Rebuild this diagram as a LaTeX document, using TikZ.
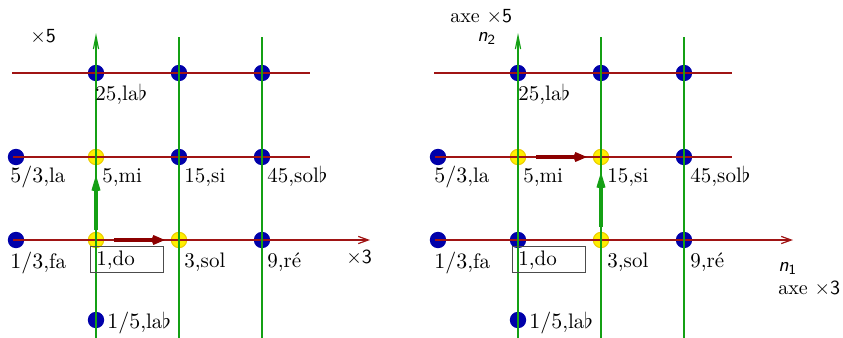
\documentclass[tikz,border=0pt]{standalone}
\usepackage{amsmath,amssymb}
\usepackage{tikz}
\usepackage{xcolor}
\usetikzlibrary{arrows.meta,positioning,calc}
\definecolor{notered}{RGB}{160,20,20}
\definecolor{arrowred}{RGB}{140,0,0}
\definecolor{notegreen}{RGB}{20,160,20}
\definecolor{dotblue}{RGB}{0,0,170}
\definecolor{dotyellow}{RGB}{255,238,0}
\definecolor{rimyellow}{RGB}{235,205,0}
\tikzset{
  bdot/.style={circle,fill=dotblue,inner sep=0pt,minimum size=8.2pt},
  ydot/.style={circle,fill=dotyellow,draw=rimyellow,line width=0.5pt,inner sep=0pt,minimum size=7.7pt},
  hline/.style={draw=notered,line width=0.6pt},
  vline/.style={draw=notegreen,line width=0.6pt},
  lab/.style={anchor=base west,inner sep=0pt,font=\fontsize{10.5}{12}\selectfont},
  axlab/.style={anchor=base west,inner sep=0pt,font=\fontsize{10}{12}\selectfont},
  hax/.style={hline,-{Straight Barb[length=5pt,width=3.6pt]}},
  vax/.style={vline,-{Straight Barb[length=6.5pt,width=2.6pt]}},
  hmove/.style={draw=arrowred,line width=1.6pt,-{Straight Barb[length=4pt,width=3.5pt]}},
  vmove/.style={draw=notegreen,line width=1.6pt,-{Straight Barb[length=5pt,width=3pt]}},
  dobox/.style={draw=black!70,anchor=north west,text height=9.5pt,text depth=3.5pt,text width=30.5pt,inner xsep=3pt,inner ysep=0pt,font=\fontsize{10.5}{12}\selectfont},
}
\newcommand{\sfn}[1]{\textsf{\itshape n}\textsubscript{\textsf{#1}}}

\begin{document}
\begin{tikzpicture}[x=0.5pt,y=-0.5pt]
  \useasboundingbox (0,0) rectangle (843,338);
  % ---- left panel: start from do
  \node[bdot] (l25) at (96,73) {};
  \node[bdot] (l75) at (179,73) {};
  \node[bdot] (l225) at (262,73) {};
  \node[bdot] (lla) at (16,157) {};
  \node[ydot] (lmi) at (96,157) {};
  \node[bdot] (lsi) at (179,157) {};
  \node[bdot] (lsolb) at (262,157) {};
  \node[bdot] (lfa) at (16,240) {};
  \node[ydot] (ldo) at (96,240) {};
  \node[ydot] (lsol) at (179,240) {};
  \node[bdot] (lre) at (262,240) {};
  \node[bdot] (llab) at (96,320) {};
  \coordinate (lr1a) at (12,73);  \coordinate (lr1b) at (310,73);
  \coordinate (lr2a) at (13,157); \coordinate (lr2b) at (310,157);
  \coordinate (lr3a) at (13,240); \coordinate (lr3b) at (370,240);
  \coordinate (lc1a) at (96,338);  \coordinate (lc1b) at (96,33);
  \coordinate (lc2a) at (179,338); \coordinate (lc2b) at (179,37);
  \coordinate (lc3a) at (262,338); \coordinate (lc3b) at (262,37);
  \draw[hline] (lr1a) -- (lr1b);
  \draw[hline] (lr2a) -- (lr2b);
  \draw[hax] (lr3a) -- (lr3b);
  \draw[vax] (lc1a) -- (lc1b);
  \draw[vline] (lc2a) -- (lc2b);
  \draw[vline] (lc3a) -- (lc3b);
  \draw[vmove] ([yshift=1pt]ldo.north) -- ([yshift=-5pt]lmi.south);
  \draw[hmove] ([xshift=5pt]ldo.east) -- ([xshift=-3pt]lsol.west);
  \node[lab] (t25) at (95,100) {25,la$\flat$};
  \node[lab] (tla) at (10,182) {$5/3$,la};
  \node[lab] (tmi) at (102,182) {5,mi};
  \node[lab] (tsi) at (184,182) {15,si};
  \node[lab] (tsolb) at (267,182) {45,sol$\flat$};
  \node[lab] (tfa) at (10,268) {$1/3$,fa};
  \node[dobox] (tdo) at (90,246) {1,do};
  \node[lab] (tsol) at (184,267) {3,sol};
  \node[lab] (tre) at (267,267) {9,ré};
  \node[lab] (tlab) at (107,328) {$1/5$,la$\flat$};
  \node[axlab] (tx5) at (30,42) {$\times$\textsf{5}};
  \node[axlab] (tx3) at (346,263) {$\times$\textsf{3}};
  % ---- right panel: from mi
  \begin{scope}[xshift=211pt]
  \node[bdot] (r25) at (96,73) {};
  \node[bdot] (r75) at (179,73) {};
  \node[bdot] (r225) at (262,73) {};
  \node[bdot] (rla) at (16,157) {};
  \node[ydot] (rmi) at (96,157) {};
  \node[ydot] (rsi) at (179,157) {};
  \node[bdot] (rsolb) at (262,157) {};
  \node[bdot] (rfa) at (16,240) {};
  \node[bdot] (rdo) at (96,240) {};
  \node[ydot] (rsol) at (179,240) {};
  \node[bdot] (rre) at (262,240) {};
  \node[bdot] (rlab) at (96,320) {};
  \coordinate (rr1a) at (12,73);  \coordinate (rr1b) at (310,73);
  \coordinate (rr2a) at (13,157); \coordinate (rr2b) at (310,157);
  \coordinate (rr3a) at (13,240); \coordinate (rr3b) at (371,240);
  \coordinate (rc1a) at (96,338);  \coordinate (rc1b) at (96,33);
  \coordinate (rc2a) at (179,338); \coordinate (rc2b) at (179,37);
  \coordinate (rc3a) at (262,338); \coordinate (rc3b) at (262,37);
  \draw[hline] (rr1a) -- (rr1b);
  \draw[hline] (rr2a) -- (rr2b);
  \draw[hax] (rr3a) -- (rr3b);
  \draw[vax] (rc1a) -- (rc1b);
  \draw[vline] (rc2a) -- (rc2b);
  \draw[vline] (rc3a) -- (rc3b);
  \draw[hmove] ([xshift=5pt]rmi.east) -- ([xshift=-3pt]rsi.west);
  \draw[vmove] ([yshift=2.5pt]rsol.north) -- ([yshift=-3.5pt]rsi.south);
  \node[lab] (s25) at (96,100) {25,la$\flat$};
  \node[lab] (sla) at (12,182) {$5/3$,la};
  \node[lab] (smi) at (101,182) {5,mi};
  \node[lab] (ssi) at (185,182) {15,si};
  \node[lab] (ssolb) at (268,182) {45,sol$\flat$};
  \node[lab] (sfa) at (12,268) {$1/3$,fa};
  \node[dobox] (sdo) at (90,246) {1,do};
  \node[lab] (ssol) at (185,267) {3,sol};
  \node[lab] (sre) at (268,267) {9,ré};
  \node[lab] (slab) at (107,328) {$1/5$,la$\flat$};
  \node[axlab] (sax5) at (28,22) {axe $\times$\textsf{5}};
  \node[axlab] (sn2) at (55,41) {\sfn{2}};
  \node[axlab] (sn1) at (356,271) {\sfn{1}};
  \node[axlab] (sax3) at (356,294) {axe $\times$\textsf{3}};
  \end{scope}
\end{tikzpicture}
\end{document}
